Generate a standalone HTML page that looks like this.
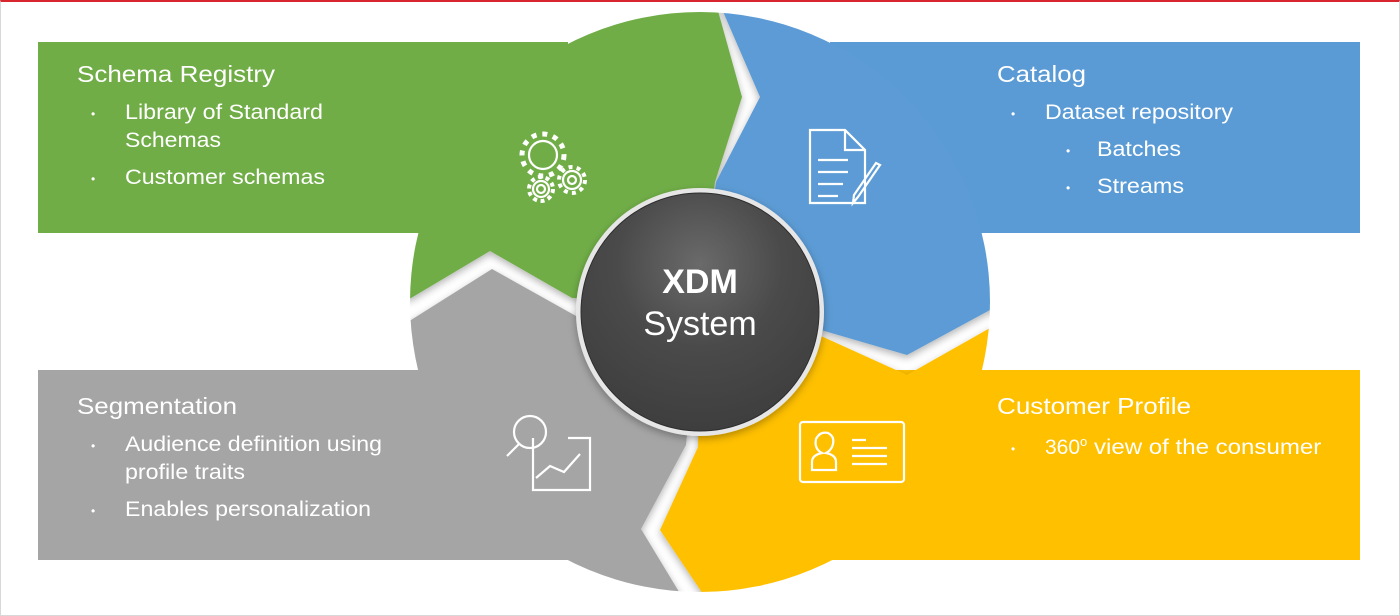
<!DOCTYPE html>
<html><head><meta charset="utf-8"><style>
html,body{margin:0;padding:0;background:#fff}
body{width:1400px;height:615px;overflow:hidden;position:relative;font-family:"Liberation Sans",sans-serif}
.frame{position:absolute;left:0;top:0;width:1398px;height:613px;border:1px solid #d8d8d8;border-top:2px solid #d9262e}
</style></head><body>
<div class="frame"></div>
<svg width="1400" height="615" style="position:absolute;left:0;top:0" font-family="Liberation Sans, sans-serif">
<defs>
<clipPath id="c"><circle cx="700" cy="302" r="290"/></clipPath>
<radialGradient id="g" cx="50%" cy="30%" r="70%">
<stop offset="0" stop-color="#6a6a6a"/><stop offset="0.5" stop-color="#4a4a4a"/><stop offset="1" stop-color="#3e3e3e"/></radialGradient>
<filter id="s" x="-10%" y="-10%" width="120%" height="120%"><feDropShadow dx="0" dy="3" stdDeviation="4" flood-color="#000" flood-opacity="0.3"/></filter>
</defs>
<rect x="38" y="42" width="530" height="191" fill="#70ad47"/>
<rect x="830" y="42" width="530" height="191" fill="#5b9bd5"/>
<rect x="38" y="370" width="530" height="190" fill="#a5a5a5"/>
<rect x="830" y="370" width="530" height="190" fill="#ffc000"/>
<g clip-path="url(#c)" filter="url(#s)">
<polygon fill="#70ad47" points="380,298 411,298 490,251 572,298 700,302 715,182 742,97 715,0 380,0"/>
<polygon fill="#5b9bd5" points="718,0 760,97 716,182 700,302 821,330 907,355 990,310 1020,310 1020,0"/>
<polygon fill="#ffc000" points="1020,328 990,328 907,375 821,336 700,302 698,447 660,530 707,600 1020,600"/>
<polygon fill="#a5a5a5" points="684,600 641,529 686,445 700,302 576,316 492,269 411,320 380,320 380,600"/>
</g>
<circle cx="700" cy="312" r="124" fill="#e6e6e6" filter="url(#s)"/>
<circle cx="700" cy="312" r="119" fill="url(#g)" stroke="#2e2e2e" stroke-width="1"/>
<text x="700" y="293" text-anchor="middle" fill="#fff" font-size="34" font-weight="bold">XDM</text>
<text x="700" y="335" text-anchor="middle" fill="#fff" font-size="34">System</text>
<g fill="none" stroke="#fff" stroke-width="2.2">
<circle cx="543" cy="155" r="14"/><circle cx="543" cy="155" r="21" stroke-width="5" stroke-dasharray="5 5.9" fill="none"/>
<circle cx="572" cy="180" r="9"/><circle cx="572" cy="180" r="4"/><circle cx="572" cy="180" r="13" stroke-width="4" stroke-dasharray="4 4.2"/>
<circle cx="541" cy="189" r="8"/><circle cx="541" cy="189" r="4"/><circle cx="541" cy="189" r="12" stroke-width="4" stroke-dasharray="4 3.6"/>
<path d="M810,130 h35 l20,20 v53 h-55 z M845,130 v20 h20 M818,160 h30 M818,172 h30 M818,184 h25 M818,196 h20 M880,165 l-22,32 -5,6 1,-8 22,-32 z"/>
<circle cx="530" cy="432" r="16"/><path d="M519,444 l-12,12 M533,438 v52 h57 v-52 h-22 M536,478 l14,-12 14,6 16,-18"/>
<rect x="800" y="422" width="104" height="60" rx="3"/>
<path d="M812,470 v-8 q0,-7 10,-9 q-8,-4 -6,-14 q4,-8 12,-6 q8,4 4,14 q-2,4 -6,6 q10,2 10,9 v8 z M852,440 h14 M852,448 h35 M852,456 h35 M852,464 h35"/>
</g>
<g fill="#fff" font-size="21" lengthAdjust="spacingAndGlyphs">
<text x="77" y="82" font-size="23" textLength="198" lengthAdjust="spacingAndGlyphs">Schema Registry</text>
<text x="91" y="118" font-size="12">•</text><text x="125" y="119" textLength="198" lengthAdjust="spacingAndGlyphs">Library of Standard</text>
<text x="125" y="147" textLength="96" lengthAdjust="spacingAndGlyphs">Schemas</text>
<text x="91" y="183" font-size="12">•</text><text x="125" y="184" textLength="200" lengthAdjust="spacingAndGlyphs">Customer schemas</text>
<text x="997" y="82" font-size="23" textLength="89" lengthAdjust="spacingAndGlyphs">Catalog</text>
<text x="1011" y="118" font-size="12">•</text><text x="1045" y="119" textLength="188" lengthAdjust="spacingAndGlyphs">Dataset repository</text>
<text x="1066" y="155" font-size="12">•</text><text x="1097" y="156" textLength="84" lengthAdjust="spacingAndGlyphs">Batches</text>
<text x="1066" y="192" font-size="12">•</text><text x="1097" y="193" textLength="87" lengthAdjust="spacingAndGlyphs">Streams</text>
<text x="77" y="414" font-size="23" textLength="160" lengthAdjust="spacingAndGlyphs">Segmentation</text>
<text x="91" y="450" font-size="12">•</text><text x="125" y="451" textLength="257" lengthAdjust="spacingAndGlyphs">Audience definition using</text>
<text x="125" y="479" textLength="120" lengthAdjust="spacingAndGlyphs">profile traits</text>
<text x="91" y="515" font-size="12">•</text><text x="125" y="516" textLength="246" lengthAdjust="spacingAndGlyphs">Enables personalization</text>
<text x="997" y="414" font-size="23" textLength="194" lengthAdjust="spacingAndGlyphs">Customer Profile</text>
<text x="1011" y="453" font-size="12">•</text><text x="1045" y="454">360<tspan font-size="13" dy="-8">o</tspan><tspan dy="8" textLength="234" lengthAdjust="spacingAndGlyphs"> view of  the consumer</tspan></text>
</g>
</svg>
</body></html>
